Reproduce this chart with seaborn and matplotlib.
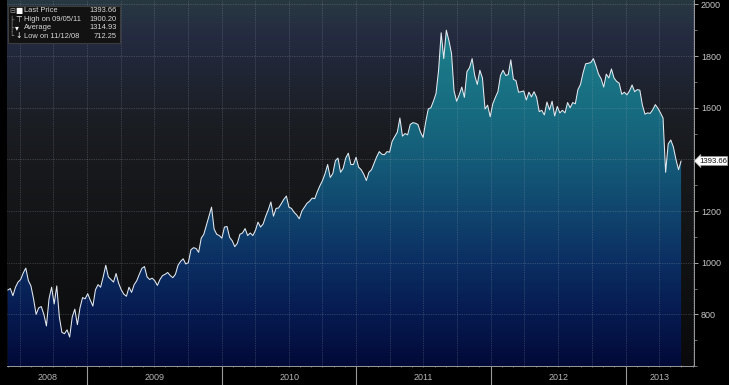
import numpy as np
import pandas as pd
import matplotlib
matplotlib.use("Agg")
import matplotlib.pyplot as plt
import matplotlib.dates as mdates
import matplotlib.transforms as mtransforms
from matplotlib.colors import LinearSegmentedColormap
from matplotlib.patches import Rectangle
import seaborn as sns

# ---------------- data (weekly closes) ----------------
start_date = "2008-05-30"
prices = [
    894, 900, 872, 905, 925, 935, 960, 979, 930, 910,
    860, 800, 825, 830, 800, 755, 860, 905, 840, 910,
    790, 730, 725, 740, 712, 790, 820, 760, 825, 865,
    860, 880, 855, 832, 895, 915, 905, 945, 990, 945,
    935, 925, 958, 920, 895, 878, 870, 905, 885, 915,
    930, 955, 978, 985, 945, 935, 940, 930, 912, 935,
    950, 955, 962, 950, 942, 955, 990, 1005, 1015, 995,
    1000, 1050, 1058, 1055, 1040, 1095, 1110, 1145, 1180, 1215,
    1130, 1110, 1105, 1095, 1138, 1140, 1098, 1085, 1062, 1075,
    1110, 1115, 1132, 1105, 1115, 1105, 1125, 1157, 1138, 1150,
    1180, 1205, 1235, 1180, 1210, 1212, 1228, 1245, 1258, 1215,
    1210, 1195, 1185, 1170, 1200, 1215, 1230, 1238, 1250, 1248,
    1275, 1298, 1318, 1345, 1380, 1330, 1345, 1395, 1405, 1350,
    1365, 1405, 1424, 1380, 1380, 1408, 1370, 1360, 1342, 1318,
    1350, 1360, 1385, 1410, 1430, 1420, 1418, 1430, 1428, 1470,
    1488, 1505, 1560, 1490, 1500, 1495, 1535, 1542, 1540, 1535,
    1505, 1485, 1545, 1595, 1600, 1625, 1655, 1745, 1890, 1790,
    1900, 1860, 1810, 1665, 1625, 1650, 1680, 1640, 1740, 1755,
    1790, 1725, 1690, 1745, 1715, 1595, 1610, 1565, 1615, 1640,
    1662, 1725, 1745, 1725, 1728, 1785, 1710, 1705, 1660, 1662,
    1665, 1630, 1660, 1642, 1662, 1640, 1585, 1590, 1572, 1622,
    1592, 1625, 1568, 1605, 1580, 1590, 1580, 1620, 1600, 1620,
    1615, 1670, 1690, 1735, 1770, 1772, 1775, 1790, 1762, 1730,
    1712, 1680, 1730, 1715, 1750, 1715, 1702, 1695, 1652, 1660,
    1650, 1665, 1688, 1662, 1670, 1668, 1610, 1575, 1580, 1578,
    1592, 1612, 1598, 1580, 1560, 1350, 1460, 1475, 1448, 1400,
    1360, 1393.66,
]
year_labels = ["2008", "2009", "2010", "2011", "2012", "2013"]
y_ticks = [800, 1000, 1200, 1400, 1600, 1800, 2000]
y_tick_labels = ["800", "1000", "1200", "", "1600", "1800", "2000"]  # 1400 hidden by price tag
legend_names = ["Last Price", "High on 09/05/11", "Average", "Low on 11/12/08"]
legend_values = ["1393.66", "1900.20", "1314.93", "712.25"]
last_price_label = "1393.66"

dates = pd.date_range(start_date, periods=len(prices), freq="W-FRI")
df = pd.DataFrame({"date": dates, "price": prices})

# ---------------- style ----------------
sns.set_theme(style="dark")
plt.rcParams["font.family"] = ["Liberation Sans", "DejaVu Sans"]

W, H = 729, 385
fig = plt.figure(figsize=(W / 100, H / 100), dpi=100, facecolor="black")
ax = fig.add_axes([7 / W, 19 / H, 687 / W, 366 / H])
ax.set_facecolor("#131416")

x0 = pd.Timestamp("2008-05-28")
x1 = pd.Timestamp("2013-07-05")
y0, y1 = 600, 2017

sns.lineplot(data=df, x="date", y="price", color="#e4eaf0", lw=0.75, ax=ax, zorder=5)

ax.set_xlim(x0, x1)
ax.set_ylim(y0, y1)
ext = [mdates.date2num(x0), mdates.date2num(x1), y0, y1]
grad = np.linspace(0, 1, 512).reshape(-1, 1)

bg_cmap = LinearSegmentedColormap.from_list(
    "bg",
    [(0.0, "#0a0a0c"), (0.35, "#131416"), (0.55, "#17191c"), (0.68, "#1b1e24"),
     (0.78, "#1f2432"), (0.9, "#242b40"), (0.96, "#263342"), (1.0, "#283840")])
ax.imshow(grad, extent=ext, origin="lower", aspect="auto", cmap=bg_cmap, zorder=0)

fill_cmap = LinearSegmentedColormap.from_list(
    "fill",
    [(0.0, "#020a38"), (0.14, "#061a50"), (0.28, "#0b2e62"), (0.42, "#10456e"),
     (0.56, "#145b78"), (0.70, "#176c80"), (0.85, "#1b7a88"), (1.0, "#1f8692")])
poly = ax.fill_between(df["date"], df["price"], y0, facecolor="none", lw=0, zorder=1)
im = ax.imshow(grad, extent=ext, origin="lower", aspect="auto", cmap=fill_cmap, zorder=2)
im.set_clip_path(poly.get_paths()[0], ax.transData)
ax.set_xlim(x0, x1)
ax.set_ylim(y0, y1)

grid_kw = dict(color="#a0a8b6", lw=0.5, ls=(0, (1, 1.5)), alpha=0.5, zorder=3)
for v in y_ticks:
    ax.axhline(v, **grid_kw)
for d in pd.date_range("2008-07-01", x1, freq="QS"):
    ax.axvline(d, **grid_kw)

for s in ["top", "left"]:
    ax.spines[s].set_visible(False)
for s in ["right", "bottom"]:
    ax.spines[s].set_visible(True)
    ax.spines[s].set_color("#9a9a9a")
    ax.spines[s].set_linewidth(0.7)

ax.yaxis.tick_right()
ax.set_yticks(y_ticks)
ax.set_yticklabels(y_tick_labels)
ax.yaxis.set_minor_locator(matplotlib.ticker.MultipleLocator(100))
ax.tick_params(axis="y", which="major", right=True, left=False, colors="#c4c4c4",
               labelsize=6.5, length=3, width=0.6, pad=2, direction="out")
ax.tick_params(axis="y", which="minor", right=True, left=False, color="#9a9a9a",
               length=2, width=0.5, direction="out")
ax.set_ylabel("")

year_starts = pd.date_range("2009-01-01", x1, freq="YS")
ax.set_xticks(year_starts)
ax.set_xticklabels([""] * len(year_starts))
ax.xaxis.set_minor_locator(mdates.MonthLocator())
ax.tick_params(axis="x", which="major", bottom=True, color="#9a9a9a",
               length=14, width=0.8, direction="out")
ax.tick_params(axis="x", which="minor", bottom=True, color="#9a9a9a",
               length=2, width=0.5, direction="inout")
ax.set_xlabel("")

trans = mtransforms.blended_transform_factory(ax.transData, ax.transAxes)
for lab in year_labels:
    ys = max(pd.Timestamp(f"{lab}-01-01"), x0)
    ye = min(pd.Timestamp(f"{int(lab) + 1}-01-01"), x1)
    mid = ys + (ye - ys) / 2
    ax.text(mid, -12 / 366, lab, transform=trans, ha="center", va="center",
            fontsize=6.5, color="#b4b4b4")


def fx(px):
    return px / W


def fy(py):
    return 1 - py / H


fig.patches.append(Rectangle((fx(8), fy(43)), (120 - 8) / W, (43 - 6) / H,
                             transform=fig.transFigure, fc="#121212",
                             ec="#3c3c3c", lw=0.8, zorder=10))
icons = ["\u25a0", "\u22a4", "\u25be", "\u2193"]
tree = ["\u229f", "\u251c", "\u251c", "\u2514"]
rows_y = [11, 19.5, 27.5, 36]
for i, (nm, val) in enumerate(zip(legend_names, legend_values)):
    yy = fy(rows_y[i])
    fig.text(fx(9.5), yy, tree[i], fontsize=5, color="#9a9a9a", va="center",
             family="DejaVu Sans", zorder=11)
    fig.text(fx(15), yy, icons[i], fontsize=5.5, color="white",
             va="center", family="DejaVu Sans", zorder=11)
    fig.text(fx(24), yy, nm, fontsize=5.4, color="#d8d8d8", va="center", zorder=11)
    fig.text(fx(117), yy, val, fontsize=5.4, color="#d8d8d8", va="center",
             ha="right", zorder=11)

ax.annotate(last_price_label, xy=(1.0, prices[-1]), xycoords=("axes fraction", "data"),
            xytext=(3.5, 0), textcoords="offset points", fontsize=5.6, color="#111111",
            va="center", ha="left",
            bbox=dict(boxstyle="larrow,pad=0.12", fc="white", ec="#9a9a9a", lw=0.5),
            annotation_clip=False, zorder=12)

fig.savefig("out.png", dpi=100, facecolor="black")
